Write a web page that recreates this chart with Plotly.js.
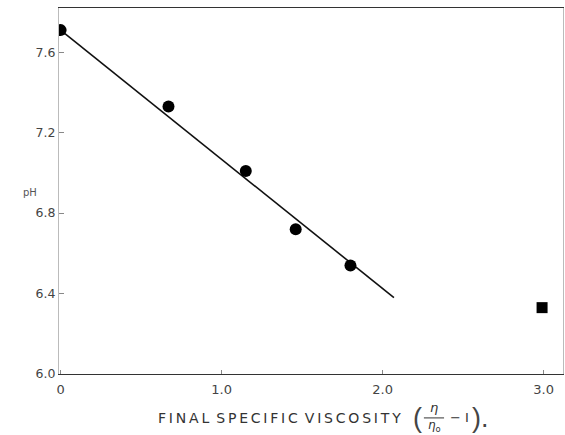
<!DOCTYPE html>
<html>
<head>
<meta charset="utf-8">
<script src="https://cdn.plot.ly/plotly-3.0.1.min.js"></script>
<style>html,body{margin:0;padding:0;background:#fff}#chart{width:565px;height:435px}</style>
</head>
<body>
<div id="chart"></div>
<script>
// Data
const viscosity = [0, 0.67, 1.15, 1.46, 1.80];
const pH = [7.71, 7.33, 7.01, 6.72, 6.54];
const squareViscosity = [2.99];
const squarePH = [6.33];
const fitViscosity = [0, 2.07];
const fitPH = [7.71, 6.38];
const xTickVals = [0, 1, 2, 3];
const xTickText = ["0", "1.0", "2.0", "3.0"];
const yTickVals = [6.0, 6.4, 6.8, 7.2, 7.6];
const yTickText = ["6.0", "6.4", "6.8", "7.2", "7.6"];

const font = "DejaVu Sans, Liberation Sans, sans-serif";
const thin = "Liberation Sans, DejaVu Sans, sans-serif";
const T = "\u2009";
const spaced = s => s.split(" ").map(w => w.split("").join(T)).join("\u2002");

const traces = [
  {x: fitViscosity, y: fitPH, mode: "lines", line: {color: "#111", width: 1.6}, hoverinfo: "skip"},
  {x: viscosity, y: pH, mode: "markers", marker: {symbol: "circle", size: 12, color: "#000"}},
  {x: squareViscosity, y: squarePH, mode: "markers", marker: {symbol: "square", size: 11, color: "#000"}}
];

const layout = {
  width: 565, height: 435,
  margin: {l: 59, r: 2, t: 8, b: 61},
  paper_bgcolor: "#fff", plot_bgcolor: "#fff",
  showlegend: false,
  font: {family: font, color: "#333", size: 12},
  xaxis: {
    range: [-0.01, 3.12], tickvals: xTickVals, ticktext: xTickText,
    showgrid: false, zeroline: false, showline: true, linecolor: "#333", linewidth: 1, mirror: true,
    ticks: "inside", ticklen: 4, tickcolor: "#888", ticklabelstandoff: 3,
    tickfont: {size: 13, color: "#444", family: font}
  },
  yaxis: {
    range: [6.0, 7.82], tickvals: yTickVals, ticktext: yTickText,
    showgrid: false, zeroline: false, showline: true, linecolor: "#bbb", linewidth: 1, mirror: true,
    ticks: "inside", ticklen: 5, tickcolor: "#888",
    tickfont: {size: 12.5, color: "#444", family: font}
  },
  annotations: [
    {text: "pH", xref: "paper", yref: "paper", x: -0.075, y: 0.495, showarrow: false,
     font: {size: 10, color: "#555", family: font}},
    {text: spaced("FINAL SPECIFIC VISCOSITY"), xref: "paper", yref: "paper", x: 0.6825, y: -0.12,
     xanchor: "right", yanchor: "middle",
     showarrow: false, font: {size: 14, color: "#333", family: font}},
    {text: "(", xref: "paper", yref: "paper", x: 0.698, y: -0.12, xanchor: "left", yanchor: "middle",
     showarrow: false, font: {size: 27, color: "#444", family: thin}},
    {text: "<i>η</i>", xref: "paper", yref: "paper", x: 0.744, y: -0.092, xanchor: "center", yanchor: "middle",
     showarrow: false, font: {size: 13, color: "#333", family: font}},
    {text: "<i>η</i><sub>o</sub>", xref: "paper", yref: "paper", x: 0.746, y: -0.143, xanchor: "center", yanchor: "middle",
     showarrow: false, font: {size: 12, color: "#333", family: font}},
    {text: "− I", xref: "paper", yref: "paper", x: 0.772, y: -0.12, xanchor: "left", yanchor: "middle",
     showarrow: false, font: {size: 13, color: "#333", family: font}},
    {text: ").", xref: "paper", yref: "paper", x: 0.815, y: -0.12, xanchor: "left", yanchor: "middle",
     showarrow: false, font: {size: 27, color: "#444", family: thin}}
  ],
  shapes: [
    {type: "line", xref: "paper", yref: "paper", x0: 0.724, x1: 0.764, y0: -0.12, y1: -0.12,
     line: {color: "#333", width: 1}}
  ]
};

Plotly.newPlot("chart", traces, layout, {displayModeBar: false, staticPlot: true});
</script>
</body>
</html>
